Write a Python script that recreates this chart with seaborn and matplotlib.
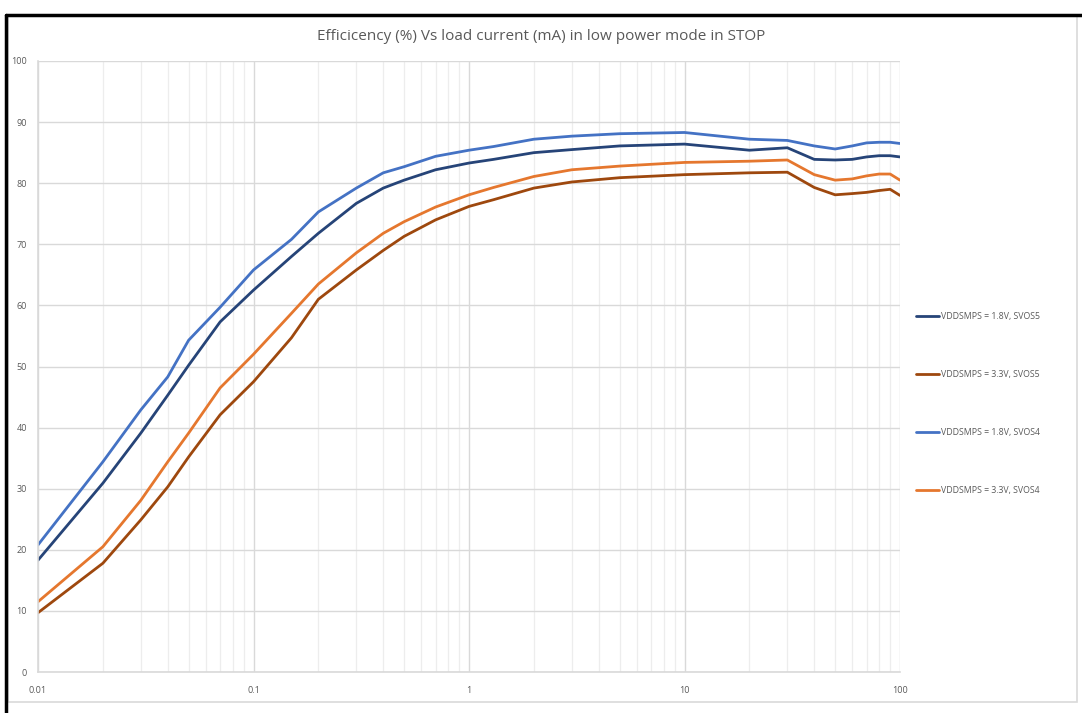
import numpy as np
import pandas as pd
import matplotlib
matplotlib.use("Agg")
import matplotlib.pyplot as plt
from matplotlib.lines import Line2D
from matplotlib.ticker import FixedLocator, LogLocator, NullFormatter
import seaborn as sns

# load current (mA)
current = [0.01, 0.02, 0.03, 0.04, 0.05, 0.07, 0.1, 0.15, 0.2, 0.3, 0.4, 0.5, 0.7,
           1, 1.3, 2, 3, 5, 10, 20, 30, 40, 50, 60, 70, 80, 90, 100]

# efficiency (%)
eff_18_svos5 = [18.3, 30.9, 39.1, 45.3, 50.2, 57.3, 62.5, 68.0, 71.8, 76.7, 79.2, 80.5, 82.2,
                83.3, 83.9, 85.0, 85.5, 86.1, 86.4, 85.4, 85.8, 83.9, 83.8, 83.9, 84.3, 84.5, 84.5, 84.3]
eff_33_svos5 = [9.7, 17.8, 24.9, 30.3, 35.2, 42.1, 47.5, 54.7, 61.0, 65.8, 69.0, 71.3, 74.0,
                76.2, 77.3, 79.2, 80.2, 80.9, 81.4, 81.7, 81.8, 79.3, 78.1, 78.3, 78.5, 78.8, 79.0, 78.0]
eff_18_svos4 = [20.8, 34.4, 42.9, 48.3, 54.3, 59.7, 65.8, 70.8, 75.3, 79.2, 81.7, 82.7, 84.4,
                85.4, 86.0, 87.2, 87.7, 88.1, 88.3, 87.2, 87.0, 86.1, 85.6, 86.1, 86.6, 86.7, 86.7, 86.5]
eff_33_svos4 = [11.5, 20.5, 28.1, 34.4, 39.1, 46.5, 52.0, 58.7, 63.5, 68.6, 71.8, 73.7, 76.1,
                78.1, 79.3, 81.1, 82.2, 82.8, 83.4, 83.6, 83.8, 81.4, 80.5, 80.7, 81.2, 81.5, 81.5, 80.5]

series_names = ["VDDSMPS = 1.8V, SVOS5", "VDDSMPS = 3.3V, SVOS5",
                "VDDSMPS = 1.8V, SVOS4", "VDDSMPS = 3.3V, SVOS4"]
series_vals = [eff_18_svos5, eff_33_svos5, eff_18_svos4, eff_33_svos4]
colors = ["#264478", "#9E480E", "#4472C4", "#E5772E"]

df = pd.concat([pd.DataFrame({"current": current, "eff": v, "series": n})
                for n, v in zip(series_names, series_vals)])

sns.set_style("white")
plt.rcParams["font.family"] = ["Open Sans", "DejaVu Sans"]
grey_txt = "#595959"

fig = plt.figure(figsize=(10.82, 7.13), dpi=100)
ax = fig.add_axes([38 / 1082, 1 - 672 / 713, 862 / 1082, 611 / 713])

sns.lineplot(data=df, x="current", y="eff", hue="series", palette=colors,
             hue_order=series_names, linewidth=2.0, ax=ax, legend=False)
for ln in ax.get_lines():
    ln.set_solid_joinstyle("round")
    ln.set_solid_capstyle("round")

ax.set_xscale("log")
ax.set_xlim(0.01, 100)
ax.set_ylim(0, 100)
ax.set_yticks(range(0, 101, 10))
ax.xaxis.set_major_locator(FixedLocator([0.01, 0.1, 1, 10, 100]))
ax.set_xticklabels(["0.01", "0.1", "1", "10", "100"])
ax.xaxis.set_minor_locator(LogLocator(base=10, subs=np.arange(2, 10)))
ax.xaxis.set_minor_formatter(NullFormatter())
ax.grid(True, which="major", color="#D9D9D9", linewidth=1)
ax.grid(True, which="minor", axis="x", color="#EDEDED", linewidth=0.9)
ax.set_axisbelow(True)
ax.tick_params(axis="both", which="both", length=0, labelsize=6.5, colors=grey_txt)
ax.tick_params(axis="x", pad=10)
ax.tick_params(axis="y", pad=8)
ax.set_xlabel("")
ax.set_ylabel("")
for side in ["top", "right"]:
    ax.spines[side].set_visible(False)
for side in ["left", "bottom"]:
    ax.spines[side].set_color("#D9D9D9")
    ax.spines[side].set_linewidth(1.2)

fig.text(541 / 1082, 1 - 36 / 713, "Efficicency (%) Vs load current (mA) in low power mode in STOP",
         ha="center", va="center", fontsize=11, color=grey_txt,
         family=["Open Sans", "DejaVu Sans"])

handles = [Line2D([0], [0], color=c, linewidth=2.0) for c in colors]
leg = ax.legend(handles, series_names, loc="center left", bbox_to_anchor=(1.01, 0.5 - 0.06),
                frameon=False, fontsize=6.3, labelspacing=5.6, handlelength=2.6,
                handletextpad=0.2, labelcolor=grey_txt)

# chart frame
fig.add_artist(plt.Rectangle((8 / 1082, 1 - 702 / 713), 1069 / 1082, 686 / 713,
                             transform=fig.transFigure, fill=False, edgecolor="#D9D9D9", linewidth=1.2))
fig.add_artist(Line2D([6 / 1082, 6 / 1082], [0, 1 - 15 / 713], transform=fig.transFigure,
                      color="black", linewidth=2.5))
fig.add_artist(Line2D([6 / 1082, 1], [1 - 15 / 713, 1 - 15 / 713], transform=fig.transFigure,
                      color="black", linewidth=2.5))

fig.savefig("out.png", dpi=100, facecolor="white")
